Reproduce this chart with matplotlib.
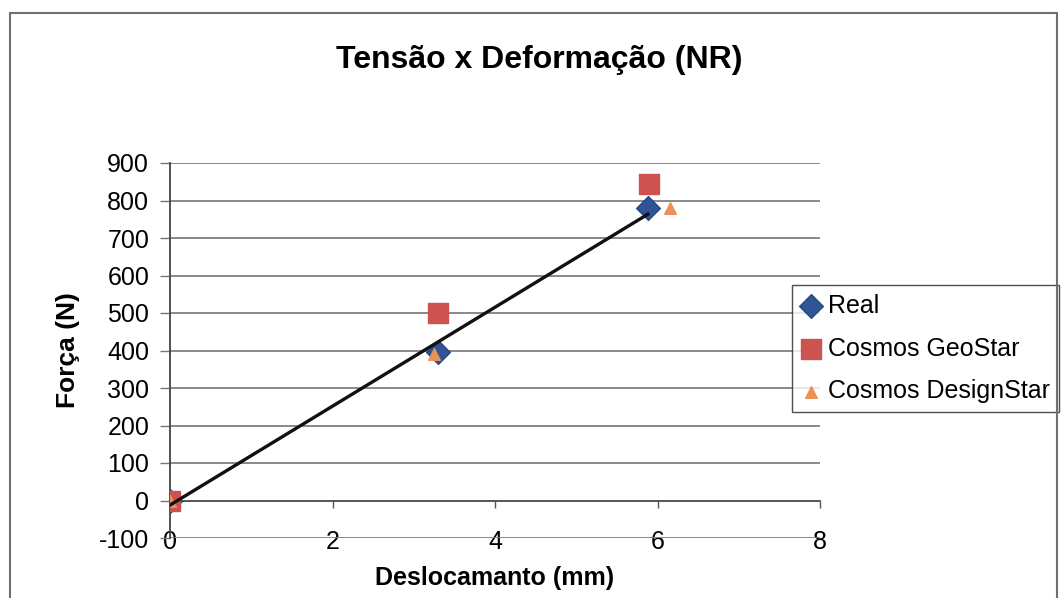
import numpy as np
import matplotlib
matplotlib.use("Agg")
import matplotlib.pyplot as plt
from matplotlib.patches import Rectangle

plt.rcParams["font.family"] = ["Liberation Sans", "DejaVu Sans"]
plt.rcParams["axes.unicode_minus"] = False

# data
real_x = [0.0, 3.3, 5.88]
real_y = [0, 395, 779]
geo_x = [0.0, 3.3, 5.9]
geo_y = [0, 501, 845]
design_x = [0.0, 3.25, 6.15]
design_y = [0, 392, 779]

x_ticks = [0, 2, 4, 6, 8]
y_ticks = list(range(-100, 901, 100))

fig = plt.figure(figsize=(10.62, 5.98), dpi=100)
ax = fig.add_axes([170 / 1062, 1 - 538 / 598, 650 / 1062, 375 / 598])

# outer chart border
fig.patches.append(Rectangle((10 / 1062, -0.01), 1047 / 1062, 1 - 13 / 598 + 0.01,
                             transform=fig.transFigure, fill=False,
                             edgecolor="#707070", lw=1.5, zorder=0))

ax.scatter(real_x, real_y, marker="D", s=150, color="#2F5597",
           edgecolors="#23437A", linewidths=0.8, zorder=3, label="Real")
ax.scatter(geo_x, geo_y, marker="s", s=190, color="#CD5350",
           edgecolors="#CD5350", zorder=4, label="Cosmos GeoStar")
ax.scatter(design_x, design_y, marker="^", s=70, color="#E8925A",
           edgecolors="#E8925A", zorder=5, label="Cosmos DesignStar")

# linear trendline of the real measurements
coef = np.polyfit(real_x, real_y, 1)
xs = np.array([0, max(real_x)])
ax.plot(xs, np.polyval(coef, xs), color="#111111", lw=2.4, zorder=6)

ax.set_xlim(0, 8)
ax.set_ylim(-100, 900)
ax.set_xticks(x_ticks)
ax.set_yticks(y_ticks)
ax.yaxis.grid(True, color="#808080", lw=1.3)
ax.set_axisbelow(True)

for s in ["top", "right"]:
    ax.spines[s].set_visible(False)
ax.spines["bottom"].set_position(("data", 0))
ax.spines["bottom"].set_color("#555555")
ax.spines["bottom"].set_linewidth(1.3)
ax.spines["left"].set_color("#444444")
ax.spines["left"].set_linewidth(1.3)

ax.tick_params(axis="x", direction="out", length=5, width=1, color="#555555",
               labelsize=18, pad=16)
ax.tick_params(axis="y", direction="out", length=7, width=1, color="#777777",
               labelsize=18, pad=8)

ax.set_xlabel("Deslocamanto (mm)", fontsize=18, fontweight="bold")
ax.xaxis.label.set_verticalalignment("center")
ax.xaxis.set_label_coords(0.5, -0.107)
ax.set_ylabel("Força (N)", fontsize=19, fontweight="bold")
ax.yaxis.label.set_verticalalignment("center")
ax.yaxis.set_label_coords(-102 / 650, 0.5)

fig.text(539 / 1062, 1 - 60 / 598, "Tensão x Deformação (NR)", fontsize=23,
         fontweight="bold", ha="center", va="center")

leg = ax.legend(loc="upper left", bbox_to_anchor=(792 / 1062, 1 - 285 / 598),
                bbox_transform=fig.transFigure, borderaxespad=0, fontsize=18,
                frameon=True, fancybox=False, edgecolor="#222222",
                handlelength=0.8, handletextpad=0.3, borderpad=0.35,
                labelspacing=0.75, scatterpoints=1)
leg.get_frame().set_linewidth(1.0)
leg.set_zorder(10)

fig.savefig("out.png", dpi=100)
